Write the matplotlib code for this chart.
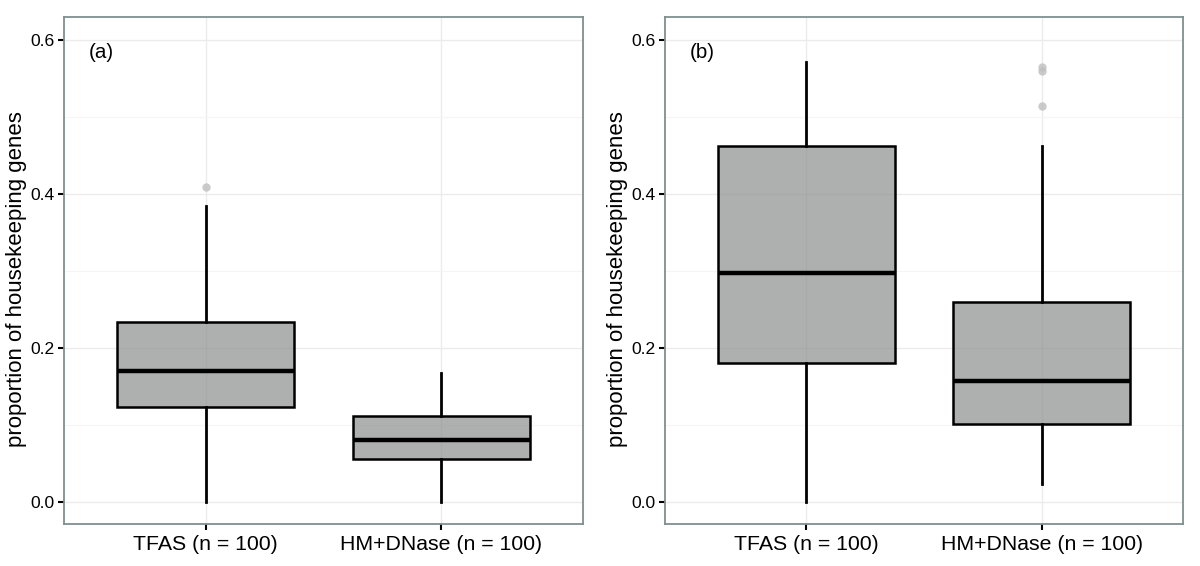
import matplotlib
matplotlib.use("Agg")
import matplotlib.pyplot as plt
from matplotlib.ticker import MultipleLocator

plt.rcParams['font.family'] = ['Liberation Sans', 'DejaVu Sans']

categories = ["TFAS (n = 100)", "HM+DNase (n = 100)"]
panel_labels = ["(a)", "(b)"]

# five-number summaries per panel: [low whisker, Q1, median, Q3, high whisker]
panel_a_stats = [[0.0, 0.123, 0.170, 0.234, 0.385],
                 [0.0, 0.056, 0.081, 0.112, 0.167]]
panel_a_outliers = [[0.409], []]
panel_b_stats = [[0.0, 0.180, 0.298, 0.463, 0.572],
                 [0.024, 0.101, 0.157, 0.260, 0.463]]
panel_b_outliers = [[], [0.515, 0.560, 0.565]]

y_ticks = [0.0, 0.2, 0.4, 0.6]
y_label = "proportion of housekeeping genes"

fig = plt.figure(figsize=(12, 5.66), dpi=100)
W, H = 1200, 566
axes_px = [(64, 17, 583, 524), (665, 17, 1183, 524)]

def make_stats(s, fl, label):
    return dict(whislo=s[0], q1=s[1], med=s[2], q3=s[3], whishi=s[4], fliers=fl, label=label)

spine_col = '#7F8F8F'
box_face = (0.55, 0.56, 0.56, 0.70)
for i, (stats, outs) in enumerate([(panel_a_stats, panel_a_outliers), (panel_b_stats, panel_b_outliers)]):
    x0, y0, x1, y1 = axes_px[i]
    ax = fig.add_axes([x0 / W, 1 - y1 / H, (x1 - x0) / W, (y1 - y0) / H])
    bstats = [make_stats(s, fl, c) for s, fl, c in zip(stats, outs, categories)]
    ax.bxp(bstats, positions=[1, 2], widths=0.75, patch_artist=True, showcaps=False,
           boxprops=dict(facecolor=box_face, edgecolor='black', linewidth=1.8),
           whiskerprops=dict(color='black', linewidth=2.0),
           medianprops=dict(color='black', linewidth=3.2),
           flierprops=dict(marker='o', markerfacecolor='#BEBEBE', markeredgecolor='none',
                           markersize=6, alpha=0.8),
           zorder=3)
    ax.set_xlim(0.4, 2.6)
    ax.set_ylim(-0.0286, 0.63)
    ax.set_yticks(y_ticks)
    ax.set_yticklabels([f"{t:.1f}" for t in y_ticks])
    ax.yaxis.set_minor_locator(MultipleLocator(0.1))
    ax.set_xticks([1, 2])
    ax.set_xticklabels(categories, fontsize=15.3)
    ax.tick_params(axis='y', labelsize=12.6, length=4, width=1.5, color='black', pad=3)
    ax.tick_params(axis='x', length=4, width=1.5, color='black', pad=4)
    ax.tick_params(which='minor', length=0)
    ax.grid(True, which='major', color='#EBEBEB', linewidth=1.0, zorder=0)
    ax.grid(True, which='minor', axis='y', color='#F5F5F5', linewidth=0.8, zorder=0)
    ax.set_axisbelow(True)
    for sp in ax.spines.values():
        sp.set_color(spine_col)
        sp.set_linewidth(1.3)
    ax.set_ylabel(y_label, fontsize=16)
    ax.yaxis.set_label_coords(-0.071, 0.484)
    ax.text(0.048, 0.93, panel_labels[i], transform=ax.transAxes, fontsize=14.8,
            ha='left', va='center')

fig.savefig("out.png", dpi=100)
